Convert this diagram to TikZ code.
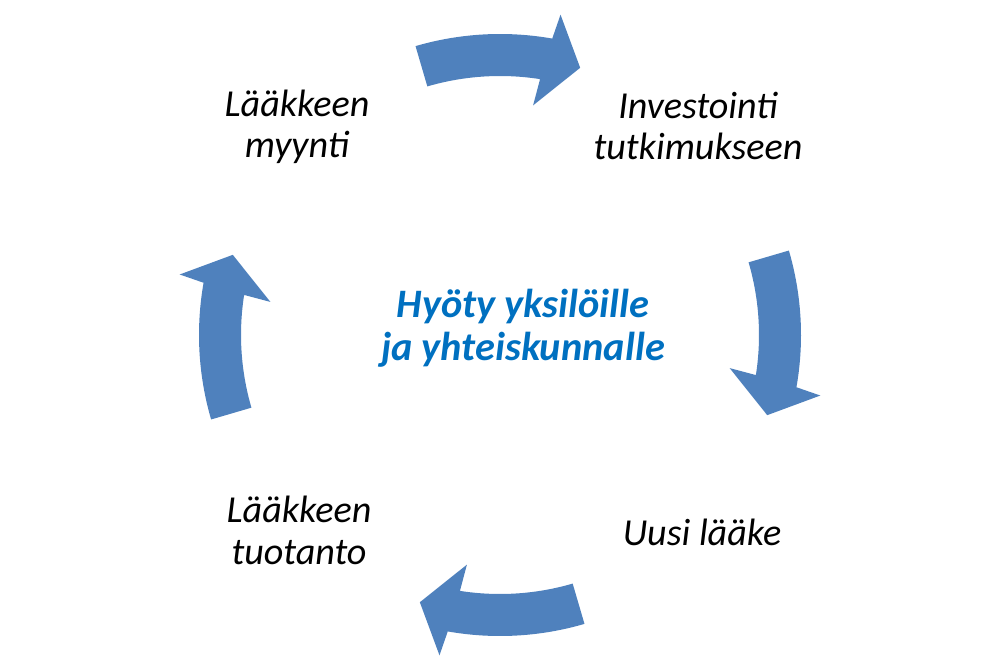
\documentclass[tikz,border=0pt]{standalone}
\usepackage{fontspec}
\setmainfont{Carlito}
\usetikzlibrary{calc}
\definecolor{arrowblue}{RGB}{79,129,189}
\definecolor{textblue}{RGB}{0,112,192}
\tikzstyle{stage}=[font=\fontsize{21.7}{23.4}\selectfont\itshape,align=center,anchor=base,inner sep=0pt]
\tikzstyle{benefit}=[font=\fontsize{23}{24.4}\selectfont\bfseries\itshape,text=textblue,align=center,anchor=base,inner sep=0pt]
\tikzstyle{cyclearrow}=[fill=arrowblue]
% one curved block arrow, tail at angle #1
\newcommand{\cyclearrow}[1]{%
  \fill[cyclearrow] ($(C)+(#1:301)$) arc[start angle=#1,end angle=#1-26.3,radius=6.02cm]
    -- ($(C)+(#1-27:326)$) -- ($(C)+(#1-33:279)$) -- ($(C)+(#1-24.5:232)$)
    -- ($(C)+(#1-25.2:259)$) arc[start angle=#1-25.2,end angle=#1,radius=5.18cm] -- cycle;}

\begin{document}
\begin{tikzpicture}[x=0.02cm,y=0.02cm]
\useasboundingbox (0,0) rectangle (1000,667);
\coordinate (C) at (500,332);

\foreach \a in {106.3,16.3,-73.7,-163.7} {\cyclearrow{\a}}

\node[stage] (SALE) at (297,509) {Lääkkeen\\myynti};
\node[stage] (INVEST) at (698,507) {Investointi\\tutkimukseen};
\node[stage] (NEW) at (702,122) {Uusi lääke};
\node[stage] (PROD) at (299,103) {Lääkkeen\\tuotanto};

\node[benefit] (BENEFIT) at (523,307) {Hyöty yksilöille\\ja yhteiskunnalle};

\end{tikzpicture}
\end{document}
